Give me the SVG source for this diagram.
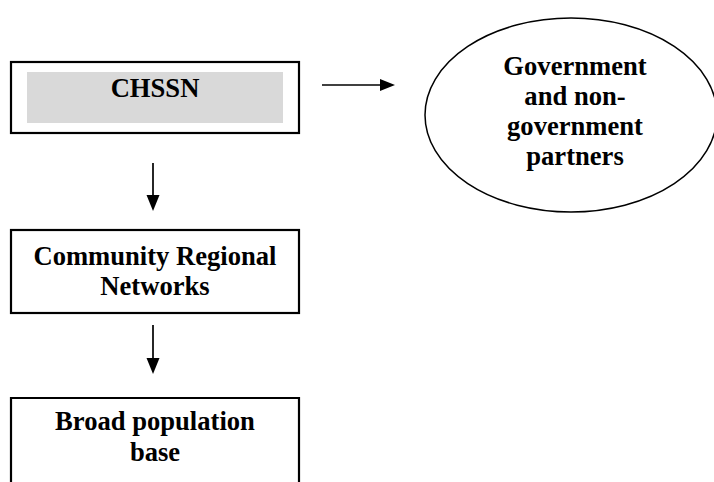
<svg xmlns="http://www.w3.org/2000/svg" width="714" height="482" viewBox="0 0 714 482">
<style>
.box{fill:#fff;stroke:#000;stroke-width:2.2}
.t{font-family:"Liberation Serif","Times New Roman",serif;font-weight:bold;font-size:26.6px;fill:#000;text-anchor:middle}
.c{stroke:#000;stroke-width:1.7;fill:none}
.h{fill:#000}
</style>
<rect width="714" height="482" fill="#fff"/>
<g id="chssn">
<rect class="box" x="11" y="62" width="288" height="71"/>
<rect x="27" y="72" width="256" height="51" fill="#d9d9d9"/>
<text class="t" x="155" y="97">CHSSN</text>
</g>
<g id="partners">
<ellipse cx="571" cy="115" rx="146" ry="97" fill="#fff" stroke="#000" stroke-width="1.5"/>
<text class="t" x="575" y="75">Government</text>
<text class="t" x="575" y="105">and non-</text>
<text class="t" x="575" y="135">government</text>
<text class="t" x="575" y="165">partners</text>
</g>
<g id="crn">
<rect class="box" x="11" y="230" width="288" height="83"/>
<text class="t" x="155" y="265">Community Regional</text>
<text class="t" x="155" y="295">Networks</text>
</g>
<g id="base">
<path class="box" d="M11,484 V398 H299 V484"/>
<text class="t" x="155" y="430">Broad population</text>
<text class="t" x="155" y="461">base</text>
</g>
<g id="connectors">
<line class="c" x1="322" y1="85" x2="382" y2="85"/>
<polygon class="h" points="380,79 395,85 380,91"/>
<line class="c" x1="153" y1="163" x2="153" y2="197"/>
<polygon class="h" points="146.5,195 159.5,195 153,211"/>
<line class="c" x1="153" y1="325" x2="153" y2="360"/>
<polygon class="h" points="146.5,358 159.5,358 153,374"/>
</g>
</svg>
